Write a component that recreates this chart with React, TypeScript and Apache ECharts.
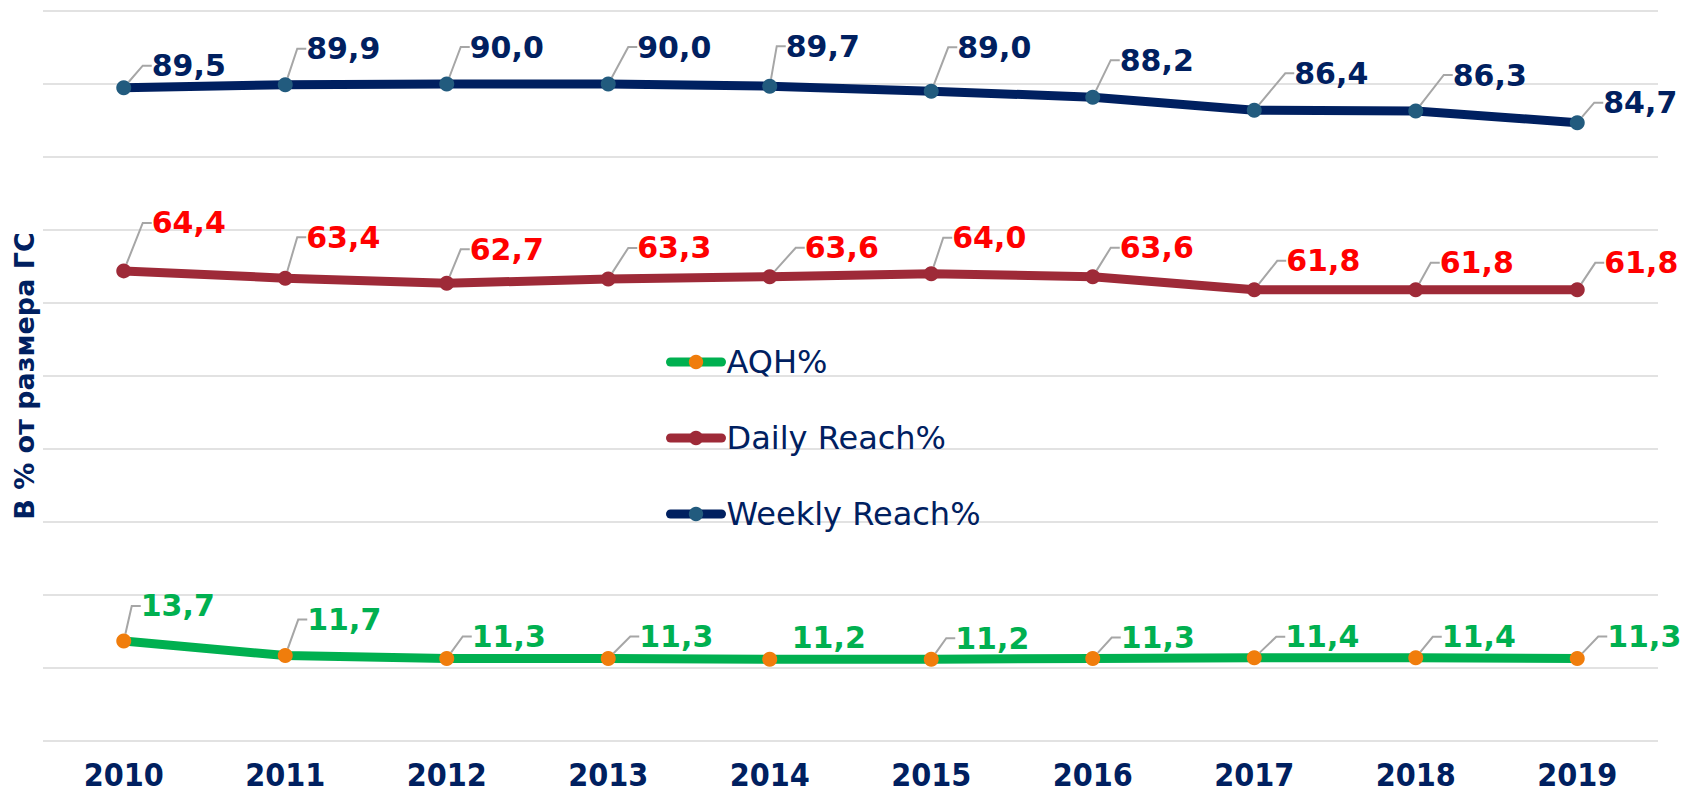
import React, { useEffect, useRef } from "react";
import * as echarts from "echarts";

const years = ["2010", "2011", "2012", "2013", "2014", "2015", "2016", "2017", "2018", "2019"];
const aqh = [13.7, 11.7, 11.3, 11.3, 11.2, 11.2, 11.3, 11.4, 11.4, 11.3];
const dailyReach = [64.4, 63.4, 62.7, 63.3, 63.6, 64.0, 63.6, 61.8, 61.8, 61.8];
const weeklyReach = [89.5, 89.9, 90.0, 90.0, 89.7, 89.0, 88.2, 86.4, 86.3, 84.7];
const seriesNames = ["AQH%", "Daily Reach%", "Weekly Reach%"];
const yAxisTitle = "В % от размера ГС";

// label offsets (styling): [dx to label left, dy to label middle] relative to the point
const aqhLabelOffsets = [[17, -35], [22, -36], [25, -22], [31, -22], [22, -22], [24, -21], [28, -21], [31, -21], [26, -21], [30, -22]];
const dailyLabelOffsets = [[28, -48], [21, -41], [23, -34], [29, -31], [35, -29], [21, -36], [27, -29], [32, -29], [24, -27], [27, -27]];
const weeklyLabelOffsets = [[28, -22], [21, -36], [23, -37], [29, -37], [16, -40], [26, -44], [27, -37], [40, -37], [37, -36], [26, -20]];
const aqhHiddenLeaders = [4];

const NAVY = "#002060";
const fmt = (v: number) => v.toFixed(1).replace(".", ",");

function makeSeries(
  name: string,
  values: number[],
  lineColor: string,
  markerColor: string,
  labelColor: string,
  offsets: number[][],
  hiddenLeaders: number[] = []
) {
  return {
    name,
    type: "line",
    data: values.map((v, i) =>
      hiddenLeaders.includes(i) ? { value: v, labelLine: { show: false } } : v
    ),
    symbol: "circle",
    symbolSize: 15,
    showSymbol: true,
    lineStyle: { color: lineColor, width: 9, cap: "round", join: "round" },
    itemStyle: { color: markerColor },
    emphasis: { disabled: true },
    label: {
      show: true,
      formatter: (p: any) => fmt(typeof p.value === "number" ? p.value : p.value.value),
      color: labelColor,
      fontFamily: "'DejaVu Sans', Verdana, sans-serif",
      fontWeight: "bold",
      fontSize: 30,
    },
    labelLine: {
      show: true,
      length2: 9,
      lineStyle: { color: "#A6A6A6", width: 2 },
    },
    labelLayout: (p: any) => {
      const o = offsets[p.dataIndex];
      return {
        x: p.rect.x + p.rect.width / 2 + o[0],
        y: p.rect.y + p.rect.height / 2 + o[1],
        align: "left",
        verticalAlign: "middle",
      };
    },
  };
}

export default function App() {
  const ref = useRef<HTMLDivElement>(null);
  useEffect(() => {
    if (!ref.current) return;
    const chart = echarts.init(ref.current, undefined, { renderer: "svg" });
    chart.setOption({
      animation: false,
      backgroundColor: "#ffffff",
      grid: { left: 43, right: 25, top: 11, bottom: 53, containLabel: false },
      legend: {
        orient: "vertical",
        left: 661,
        top: 341,
        itemWidth: 51,
        itemHeight: 18,
        itemGap: 44,
        data: seriesNames,
        lineStyle: { width: 9, cap: "round" },
        textStyle: {
          color: NAVY,
          fontSize: 32,
          lineHeight: 32,
          fontFamily: "'DejaVu Sans', Verdana, sans-serif",
        },
      },
      xAxis: {
        type: "category",
        data: years,
        boundaryGap: true,
        axisLine: { show: false },
        axisTick: { show: false },
        axisLabel: {
          color: NAVY,
          fontWeight: "bold",
          fontSize: 32,
          lineHeight: 32,
          margin: 18,
          fontFamily: "'DejaVu Sans Condensed', 'DejaVu Sans', sans-serif",
        },
      },
      yAxis: {
        type: "value",
        min: 0,
        max: 100,
        interval: 10,
        axisLine: { show: false },
        axisTick: { show: false },
        axisLabel: { show: false },
        splitLine: { lineStyle: { color: "#D9D9D9", width: 1.5 } },
        name: yAxisTitle,
        nameLocation: "middle",
        nameRotate: 90,
        nameGap: 5,
        nameTextStyle: {
          color: NAVY,
          fontWeight: "bold",
          fontSize: 27,
          fontFamily: "'DejaVu Sans', Verdana, sans-serif",
        },
      },
      series: [
        makeSeries(seriesNames[0], aqh, "#00B050", "#F07D0C", "#00B050", aqhLabelOffsets, aqhHiddenLeaders),
        makeSeries(seriesNames[1], dailyReach, "#9E2A38", "#9E2A38", "#FF0000", dailyLabelOffsets),
        makeSeries(seriesNames[2], weeklyReach, NAVY, "#225B7E", NAVY, weeklyLabelOffsets),
      ],
    });
    return () => chart.dispose();
  }, []);
  return (
    <div
      ref={ref}
      style={{ position: "fixed", left: 0, top: 0, width: 1683, height: 794, background: "#fff" }}
    />
  );
}
